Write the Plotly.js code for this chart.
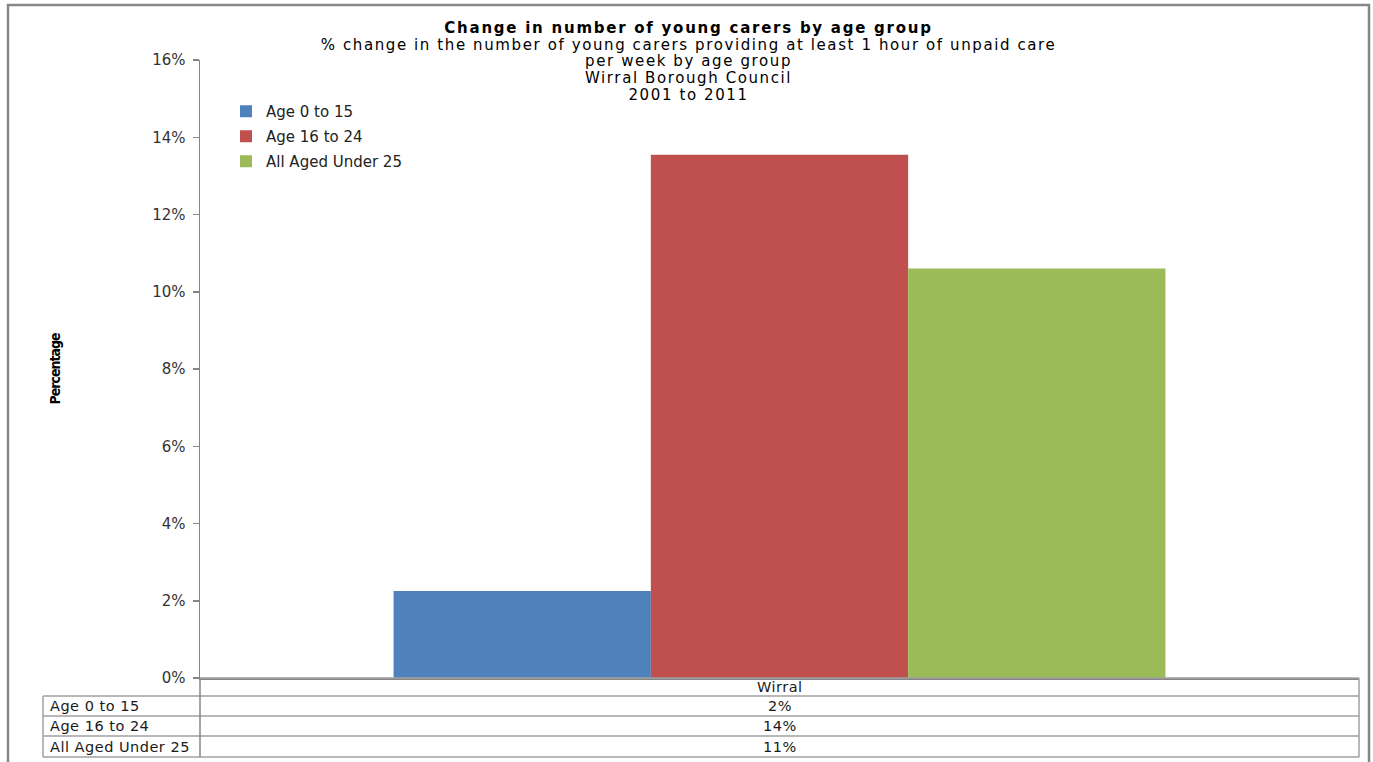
<!DOCTYPE html>
<html>
<head>
<meta charset="utf-8">
<script src="https://cdn.plot.ly/plotly-3.0.1.min.js"></script>
<style>
html,body{margin:0;padding:0;background:#fff;}
#chart{width:1373px;height:762px;}
</style>
</head>
<body>
<div id="chart"></div>
<script>
// ---- data ----
const category = ['Wirral'];
const seriesNames = ['Age 0 to 15', 'Age 16 to 24', 'All Aged Under 25'];
const age0to15 = [2.25];
const age16to24 = [13.55];
const allUnder25 = [10.6];
const yTickVals = [0, 2, 4, 6, 8, 10, 12, 14, 16];
const titleLines = [
  'Change in number of young carers by age group',
  '% change in the number of young carers providing at least 1 hour of unpaid care',
  'per week by age group',
  'Wirral Borough Council',
  '2001 to 2011'
];
const yTitle = 'Percentage';

const seriesValues = [age0to15, age16to24, allUnder25];
const colors = ['#4F81BD', '#C0504D', '#9BBB59'];

// ---- layout geometry (pixels) ----
const W = 1373, H = 762;
const L = 200, R = 14, T = 60, B = 84;
const pw = W - L - R, ph = H - T - B;
const px = v => (v - L) / pw;          // pixel x -> paper x
const py = v => (H - B - v) / ph;      // pixel y -> paper y

const FONT = 'DejaVu Sans, Liberation Sans, Arial, sans-serif';
const gridCol = '#a0a0a0';
const wide = (s, size, ls, bold) =>
  '<span style="font-size:' + size + 'px;letter-spacing:' + ls + 'px' + (bold ? ';font-weight:bold' : '') + '">' + s + '</span>';

const traces = seriesNames.map((name, i) => ({
  type: 'bar',
  name: name,
  x: category,
  y: seriesValues[i],
  marker: {color: colors[i]},
  legendgroup: 'g' + i,
  hoverinfo: 'skip'
}));

const shapes = [];
const annotations = [];

// outer frame
shapes.push({type: 'rect', xref: 'paper', yref: 'paper',
  x0: px(8), x1: px(1369), y0: py(775), y1: py(5),
  line: {color: '#878787', width: 2.5}, fillcolor: 'rgba(0,0,0,0)'});

// data table
const tableLeft = 43, tableRight = 1359, colDiv = 200;
const rowLines = [696, 716, 736, 757];
const headerTop = H - B; // 678
shapes.push({type: 'line', xref: 'paper', yref: 'paper', x0: px(colDiv), x1: px(tableRight), y0: py(headerTop), y1: py(headerTop), line: {color: gridCol, width: 1.5}});
rowLines.forEach(yy => {
  shapes.push({type: 'line', xref: 'paper', yref: 'paper', x0: px(tableLeft), x1: px(tableRight), y0: py(yy), y1: py(yy), line: {color: gridCol, width: 1.5}});
});
shapes.push({type: 'line', xref: 'paper', yref: 'paper', x0: px(tableLeft), x1: px(tableLeft), y0: py(rowLines[0]), y1: py(rowLines[3]), line: {color: gridCol, width: 1.5}});
shapes.push({type: 'line', xref: 'paper', yref: 'paper', x0: px(colDiv), x1: px(colDiv), y0: py(headerTop), y1: py(rowLines[3]), line: {color: '#868686', width: 1.5}});
shapes.push({type: 'line', xref: 'paper', yref: 'paper', x0: px(tableRight), x1: px(tableRight), y0: py(headerTop), y1: py(rowLines[3]), line: {color: gridCol, width: 1.5}});

const cellFont = {family: FONT, size: 14, color: '#1a1a1a'};
const cell = s => wide(s, 14.5, 0.5, false);
const valueCenter = (colDiv + tableRight) / 2;
annotations.push({xref: 'paper', yref: 'paper', x: px(valueCenter), y: py((headerTop + rowLines[0]) / 2),
  text: cell(category[0]), showarrow: false, xanchor: 'center', yanchor: 'middle', font: cellFont});
seriesNames.forEach((name, i) => {
  const top = rowLines[i];
  const bot = rowLines[i + 1];
  const cy = (top + bot) / 2;
  annotations.push({xref: 'paper', yref: 'paper', x: px(tableLeft + 5), y: py(cy),
    text: cell(name), showarrow: false, xanchor: 'left', yanchor: 'middle', font: cellFont});
  annotations.push({xref: 'paper', yref: 'paper', x: px(valueCenter), y: py(cy),
    text: cell(Math.round(seriesValues[i][0]) + '%'), showarrow: false, xanchor: 'center', yanchor: 'middle', font: cellFont});
});

const titleText = titleLines.map((s, i) => i === 0 ? '<b>' + wide(s, 15, 1.75, true) + '</b>' : wide(s, 15, 1.6, false)).join('<br>');

const layout = {
  width: W, height: H,
  margin: {l: L, r: R, t: T, b: B, pad: 0},
  paper_bgcolor: '#ffffff', plot_bgcolor: '#ffffff',
  font: {family: FONT, color: '#333'},
  title: {
    text: titleText,
    font: {family: FONT, size: 12.85, color: '#000'},
    x: 0.5015, xanchor: 'center', xref: 'container',
    y: 1 - 33 / H, yanchor: 'top', yref: 'container'
  },
  barmode: 'group',
  bargap: 0.334,
  bargroupgap: 0,
  showlegend: true,
  legend: {
    x: px(226), y: py(95), xanchor: 'left', yanchor: 'top',
    font: {family: FONT, size: 15, color: '#222'},
    bgcolor: 'rgba(0,0,0,0)', borderwidth: 0,
    tracegroupgap: 2.5, traceorder: 'grouped'
  },
  xaxis: {
    type: 'category',
    showticklabels: false, ticks: '',
    showline: true, linecolor: '#868686', linewidth: 1.5,
    showgrid: false, zeroline: false, fixedrange: true
  },
  yaxis: {
    range: [0, 16],
    tickvals: yTickVals,
    ticktext: yTickVals.map(v => v + '%'),
    ticks: 'outside', ticklen: 6, tickwidth: 1.5, tickcolor: '#868686',
    ticklabelstandoff: 4,
    showline: true, linecolor: '#868686', linewidth: 1.5,
    showgrid: false, zeroline: false, fixedrange: true,
    tickfont: {family: FONT, size: 15, color: '#333'},
    title: {
      text: '<span style="letter-spacing:-1px;font-weight:bold">' + yTitle + '</span>',
      font: {family: 'DejaVu Sans Condensed, Liberation Sans Narrow, Liberation Sans, sans-serif', size: 14, color: '#000'},
      standoff: 88
    }
  },
  shapes: shapes,
  annotations: annotations
};

Plotly.newPlot('chart', traces, layout, {displayModeBar: false, staticPlot: true});
</script>
</body>
</html>
